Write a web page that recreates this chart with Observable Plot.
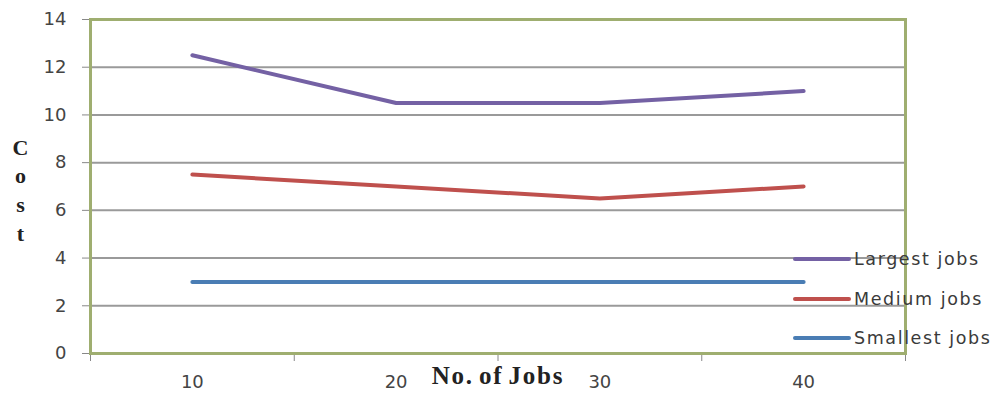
<!DOCTYPE html>
<html>
<head>
<meta charset="utf-8">
<script src="https://cdn.jsdelivr.net/npm/d3@7"></script>
<script src="https://cdn.jsdelivr.net/npm/@observablehq/plot@0.6"></script>
<style>
  html, body { margin: 0; padding: 0; background: #ffffff; }
  #wrap { position: relative; width: 1000px; height: 394px; }
  #legend { position: absolute; left: 793px; top: 0; font-family: "DejaVu Sans", sans-serif; font-size: 17.5px; letter-spacing: 1.6px; color: #3a3a3a; }
  .item { position: absolute; left: 0; display: flex; align-items: center; white-space: nowrap; }
  .swatch { width: 58px; height: 4px; border-radius: 2px; margin-right: 3px; }
</style>
</head>
<body>
<div id="wrap"></div>
<script>
const jobs = [10, 20, 30, 40];
const largest = [12.5, 10.5, 10.5, 11];
const medium = [7.5, 7, 6.5, 7];
const smallest = [3, 3, 3, 3];
const seriesNames = ["Largest jobs", "Medium jobs", "Smallest jobs"];
const seriesColors = ["#7461a4", "#bf504d", "#4a7db4"];
const yTicks = [0, 2, 4, 6, 8, 10, 12, 14];
const xBoundaries = [5, 15, 25, 35, 45];

const seriesValues = [largest, medium, smallest];
const rows = seriesNames.flatMap((name, i) =>
  jobs.map((j, k) => ({series: name, jobs: j, cost: seriesValues[i][k]}))
);

const font = "DejaVu Sans, sans-serif";

const chart = Plot.plot({
  width: 1000,
  height: 394,
  marginLeft: 90,
  marginRight: 95,
  marginTop: 19,
  marginBottom: 41,
  style: {background: "#ffffff", fontFamily: font, color: "#444"},
  x: {domain: [5, 45]},
  y: {domain: [0, 14]},
  color: {domain: seriesNames, range: seriesColors},
  marks: [
    Plot.gridY({ticks: yTicks.slice(1, -1), stroke: "#9a9a9a", strokeOpacity: 1, strokeWidth: 2}),
    Plot.axisY({ticks: yTicks, tickSize: 8, tickPadding: 16, fontSize: 18, label: null, stroke: "#888"}),
    Plot.axisX({ticks: jobs, tickSize: 0, tickPadding: 22, fontSize: 18, label: null}),
    Plot.axisX({ticks: xBoundaries, tickSize: 8, tickFormat: () => "", label: null, stroke: "#888"}),
    Plot.frame({stroke: "#9fae70", strokeWidth: 3}),
    Plot.line(rows, {x: "jobs", y: "cost", z: "series", stroke: "series", strokeWidth: 4, strokeLinecap: "round"}),
    Plot.text(["No. of Jobs"], {frameAnchor: "bottom", dy: 30, text: d => d, fontFamily: "Liberation Serif, serif", fontWeight: "bold", fontSize: 25, fill: "#222"}),
    Plot.text(["C\no\ns\nt"], {frameAnchor: "left", dx: -70, dy: 2, text: d => d, fontFamily: "Liberation Serif, serif", fontWeight: "bold", fontSize: 22, lineHeight: 1.3, fill: "#222", textAnchor: "middle"})
  ]
});

d3.select(chart).selectAll("text").filter(function() { return this.textContent === "No. of Jobs"; })
  .style("letter-spacing", "1.8px").style("word-spacing", "-3px");

const wrap = document.getElementById("wrap");
wrap.appendChild(chart);

const legend = document.createElement("div");
legend.id = "legend";
const legendTops = [259, 299, 338];
seriesNames.forEach((name, i) => {
  const item = document.createElement("div");
  item.className = "item";
  item.style.top = (legendTops[i] - 11) + "px";
  item.style.height = "22px";
  const sw = document.createElement("span");
  sw.className = "swatch";
  sw.style.background = seriesColors[i];
  const label = document.createElement("span");
  label.textContent = name;
  item.appendChild(sw);
  item.appendChild(label);
  legend.appendChild(item);
});
wrap.appendChild(legend);
</script>
</body>
</html>
